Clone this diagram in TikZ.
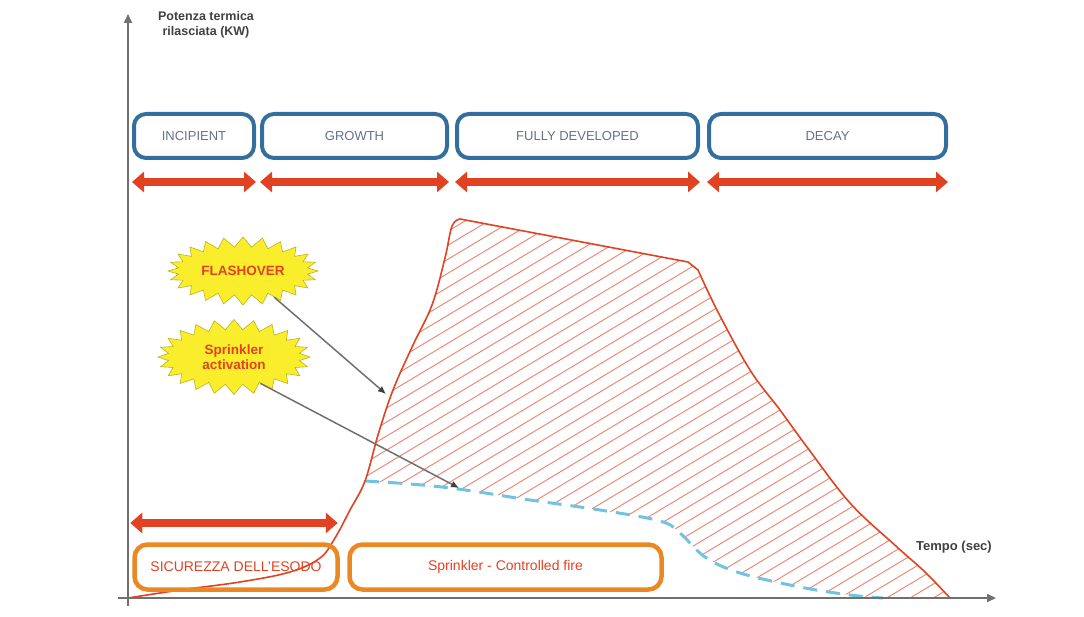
\documentclass[tikz,border=0pt]{standalone}
\usepackage{fontspec}
\setmainfont{Liberation Sans}
\usepackage{xcolor}
\usepackage{tikz}
\usetikzlibrary{positioning,calc,shapes.symbols,arrows.meta}

\definecolor{fasiblu}{RGB}{52,110,158}
\definecolor{testoblu}{RGB}{100,112,140}
\definecolor{rosso}{RGB}{224,66,34}
\definecolor{arancio}{RGB}{236,136,36}
\definecolor{tratteggio}{RGB}{234,128,108}
\definecolor{azzurro}{RGB}{112,196,226}
\definecolor{giallo}{RGB}{250,238,44}
\definecolor{assi}{RGB}{112,112,112}

\begin{document}
\begin{tikzpicture}[x=1pt,y=-1pt,
	fase/.style={draw=fasiblu,line width=4pt,rounded corners=12pt,minimum height=44pt,text=testoblu,font=\fontsize{13}{15}\selectfont},
	zona/.style={draw=arancio,line width=4.5pt,rounded corners=13pt,minimum height=45pt,text=rosso,font=\fontsize{14}{16}\selectfont},
	freccia/.style={rosso,line width=8pt,{Triangle[length=12pt,width=20pt]}-{Triangle[length=12pt,width=20pt]}},
	scoppio/.style={starburst,starburst points=24,starburst point height=10pt,random starburst=0,fill=giallo,draw=giallo!75!black,line width=0.6pt,text=rosso,font=\bfseries\fontsize{13.5}{15}\selectfont,align=center,inner sep=0pt},
	richiamo/.style={assi,line width=1.5pt,-{Latex[length=8pt,width=7pt,black!75]}}]
	\useasboundingbox (0,0) rectangle (1084,617);
	
	% tratteggio tra curva libera e curva con sprinkler
	\begin{scope}
		\clip plot[smooth,tension=0.6] coordinates {(365,481) (378,435) (393,390) (413,345) (432,305) (445,258) (452,226) (460,219)}
		-- (688,262)
		-- plot[smooth,tension=0.6] coordinates {(698,270) (718,312) (750,370) (780,410) (807,447) (850,503) (897,547) (925,572) (950,598)}
		-- plot[smooth,tension=0.6] coordinates {(883,598) (850,595) (800,587) (740,573) (705,557) (680,533) (660,521) (600,510) (530,500) (458,489) (410,484) (365,481)}
		-- cycle;
		\foreach \k in {250,264,...,1000} { \draw[tratteggio,line width=0.9pt] (300,\k) -- ++(700,-420); }
	\end{scope}
	
	% curva con sprinkler
	\draw[azzurro,line width=3pt,dash pattern=on 14pt off 9pt] plot[smooth,tension=0.6] coordinates {(365,481) (410,484) (458,489) (530,500) (600,510) (660,521) (680,533) (705,557) (740,573) (800,587) (850,595) (883,598)};
	
	% curva di incendio
	\draw[rosso,line width=1.6pt] plot[smooth,tension=0.6] coordinates {(128,598) (180,590) (240,582) (290,572) (320,558) (335,538) (350,510) (365,481) (378,435) (393,390) (413,345) (432,305) (445,258) (452,226) (460,219)}
	-- (688,262)
	-- plot[smooth,tension=0.6] coordinates {(698,270) (718,312) (750,370) (780,410) (807,447) (850,503) (897,547) (925,572) (950,598)};
	
	% assi
	\draw[assi,line width=2pt,-{Triangle[length=9pt,width=8pt]}] (128,606) -- (128,14);
	\draw[assi,line width=2pt,-{Triangle[length=9pt,width=8pt]}] (118,598) -- (996,598);
	\node[align=center,text=black!75,font=\bfseries\fontsize{12.5}{15}\selectfont] (potenza) at (206,25) {Potenza termica\\rilasciata (KW)};
	\node[text=black!75,font=\bfseries\fontsize{13}{15}\selectfont] (tempo) at (954,547) {Tempo (sec)};
	
	% fasi dell'incendio
	\node[fase,minimum width=120pt] (incipient) at (194,136) {INCIPIENT};
	\node[fase,minimum width=185pt] (growth) at (354.5,136) {GROWTH};
	\node[fase,minimum width=241pt] (fully) at (577.5,136) {FULLY DEVELOPED};
	\node[fase,minimum width=237pt] (decay) at (827.5,136) {DECAY};
	\foreach \f in {incipient,growth,fully,decay} {
		\draw[freccia] ($(\f.west)+(0,46)$) -- ($(\f.east)+(0,46)$);
	}
	
	% esodo e sprinkler
	\node[zona,minimum width=203pt] (esodo) at (236,567) {SICUREZZA DELL'ESODO};
	\node[zona,minimum width=312pt] (controllo) at (505.5,567) {Sprinkler - Controlled fire};
	\draw[freccia] ($(esodo.west)+(-2,-44)$) -- ($(esodo.east)+(-2,-44)$);
	
	% richiami
	\node[scoppio,minimum width=150pt,minimum height=68pt] (flashover) at (243,271) {FLASHOVER};
	\node[scoppio,minimum width=152pt,minimum height=75pt] (sprinkler) at (234,357) {Sprinkler\\activation};
	\coordinate (puntoflash) at (386,394);
	\coordinate (puntosprink) at (459,488);
	\draw[richiamo] (flashover.-40) -- (puntoflash);
	\draw[richiamo] (sprinkler.-45) -- (puntosprink);
\end{tikzpicture}
\end{document}
